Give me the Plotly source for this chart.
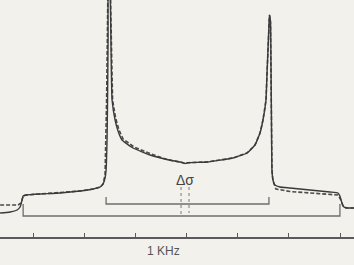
import plotly.graph_objects as go

# ---- data (frequency in kHz, intensity in arbitrary units) ----
solid_freq = [-3.643, -3.447, -3.311, -3.252, -3.213, -3.193, -3.135, -2.861, -2.471, -2.080,
              -1.826, -1.689, -1.631, -1.592, -1.572, -1.553, -1.543, -1.533, -1.523, -1.504,
              -1.488, -1.475, -1.455, -1.396, -1.338, -1.260, -1.045, -0.713, -0.381, -0.088,
              -0.029, 0.029, 0.400, 0.908, 1.182, 1.338, 1.436, 1.494, 1.553, 1.572,
              1.592, 1.611, 1.621, 1.641, 1.650, 1.660, 1.670, 1.689, 1.729, 1.826,
              2.021, 2.412, 2.803, 2.959, 2.998, 3.037, 3.076, 3.154, 3.271]
solid_int = [24, 25, 27, 30, 37, 41, 42, 43, 44, 46,
             48, 50, 53, 59, 67, 97, 137, 197, 260, 260,
             237, 187, 137, 117, 106, 97, 89, 82, 77.5, 74.5,
             73.5, 74.3, 75, 79, 84, 92, 104, 117, 137, 162,
             187, 212, 222, 215, 177, 117, 67, 57, 52, 50,
             49, 47, 45, 44, 41, 34, 30, 29, 29]

dash_freq = [-3.643, -3.291, -3.232, -3.213, -3.193, -3.135, -2.861, -2.471, -2.080, -1.826,
             -1.689, -1.631, -1.592, -1.562, -1.553, -1.543, -1.533, -1.504, -1.484, -1.465,
             -1.445, -1.386, -1.319, -1.240, -1.025, -0.693, -0.381, -0.088, -0.029, 0.029,
             0.400, 0.908, 1.182, 1.338, 1.436, 1.494, 1.553, 1.572, 1.592, 1.611,
             1.621, 1.641, 1.650, 1.660, 1.670, 1.689, 1.748, 2.021, 2.412, 2.803,
             2.959, 3.018, 3.057, 3.115, 3.271]
dash_int = [32, 32, 34, 39, 41, 42, 43, 44, 46, 48,
            50, 53, 62, 137, 200, 260, 260, 260, 237, 187,
            137, 119, 107, 98, 90, 83, 77.5, 74.5, 73.5, 74.3,
            75, 79, 84, 92, 104, 117, 137, 162, 187, 212,
            222, 215, 177, 117, 67, 56, 48, 45.5, 44, 42.5,
            42, 37, 31, 29, 29]

outer_bracket_freq = [-3.193, -3.193, 2.998, 2.998]
outer_bracket_int = [33, 21, 21, 33]
inner_bracket_freq = [-1.572, -1.572, 1.611, 1.611]
inner_bracket_int = [40, 33, 33, 40]
delta_left_freq = [-0.107, -0.107]
delta_left_int = [50, 22]
delta_right_freq = [0.049, 0.049]
delta_right_int = [50, 24]

tick_vals = [-3, -2, -1, 0, 1, 2, 3]
scale_label = "1 KHz"
delta_label = "Δσ"

bg = "#f2f1ec"
fig = go.Figure()

fig.add_trace(go.Scatter(x=outer_bracket_freq, y=outer_bracket_int, mode="lines",
                         line=dict(color="#6e6e6e", width=1.3), hoverinfo="skip"))
fig.add_trace(go.Scatter(x=inner_bracket_freq, y=inner_bracket_int, mode="lines",
                         line=dict(color="#6e6e6e", width=1.3), hoverinfo="skip"))
for fx, fy in [(delta_left_freq, delta_left_int), (delta_right_freq, delta_right_int)]:
    fig.add_trace(go.Scatter(x=fx, y=fy, mode="lines",
                             line=dict(color="#7a7a7a", width=1, dash="3px,3px"),
                             hoverinfo="skip"))

fig.add_trace(go.Scatter(x=dash_freq, y=dash_int, mode="lines",
                         line=dict(color="#4a4a4a", width=1.6, dash="4px,2px"),
                         hoverinfo="skip"))
fig.add_trace(go.Scatter(x=solid_freq, y=solid_int, mode="lines",
                         line=dict(color="#3a3a3a", width=1.4, shape="spline", smoothing=0.4),
                         hoverinfo="skip"))

fig.add_annotation(x=-0.029, y=57, xref="x", yref="y", text=delta_label, showarrow=False,
                   font=dict(family="Liberation Sans", size=14, color="#444444"))
fig.add_annotation(x=-0.459, y=0, xref="x", yref="paper", yshift=-14, yanchor="middle",
                   text=scale_label, showarrow=False,
                   font=dict(family="Liberation Sans", size=12, color="#555555"))

fig.update_layout(
    width=354, height=265,
    margin=dict(l=0, r=0, t=0, b=28),
    paper_bgcolor=bg, plot_bgcolor=bg,
    showlegend=False,
    xaxis=dict(range=[-3.645, 3.273], showgrid=False, zeroline=False,
               showline=True, linecolor="#5a5a5a", linewidth=1.5,
               tickmode="array", tickvals=tick_vals, ticks="inside", ticklen=4,
               tickcolor="#5a5a5a", tickwidth=1, showticklabels=False, fixedrange=True),
    yaxis=dict(range=[0, 237], visible=False, fixedrange=True),
)

fig.write_html("out.html")
